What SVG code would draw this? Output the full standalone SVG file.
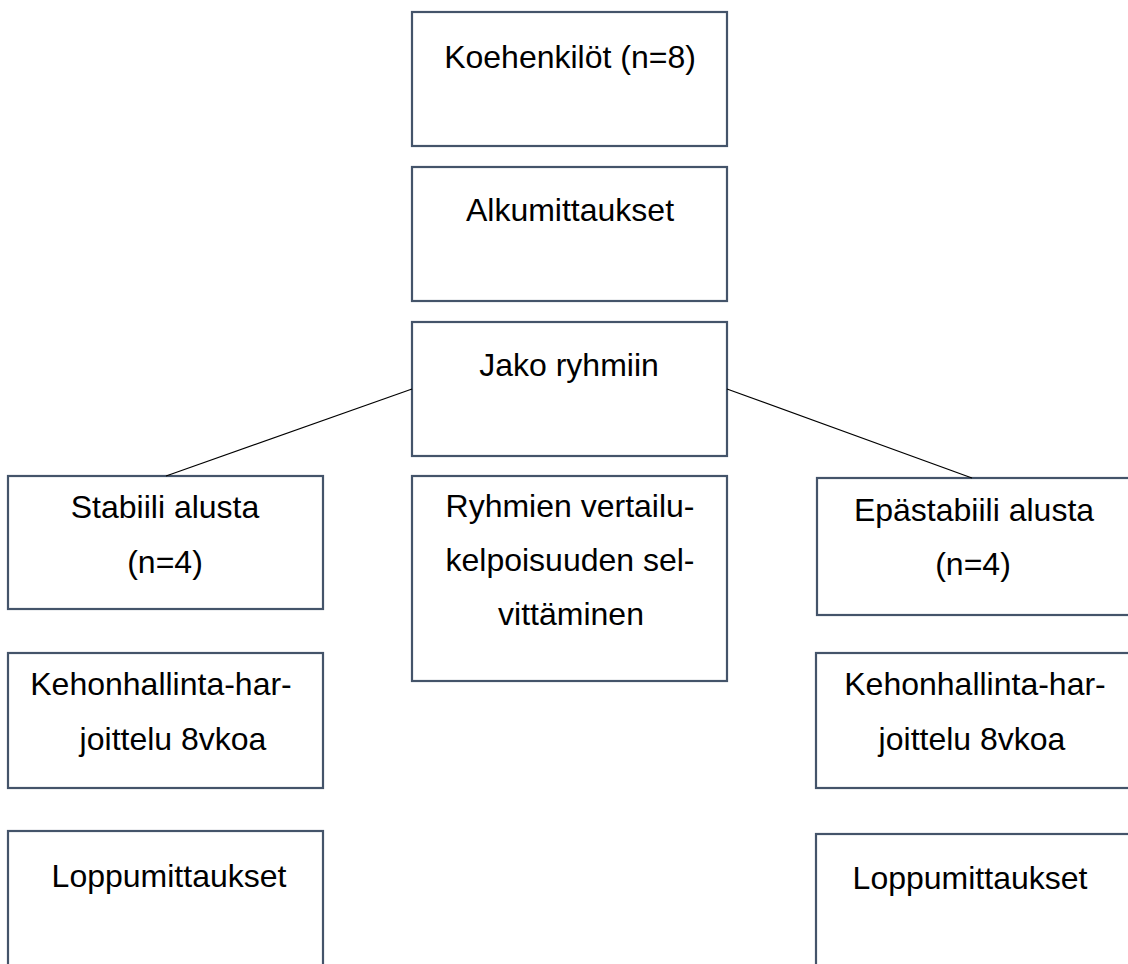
<svg xmlns="http://www.w3.org/2000/svg" width="1128" height="964" viewBox="0 0 1128 964">
<style>
.box{fill:#ffffff;stroke:#44546A;stroke-width:2.2}
.t{font-family:"Liberation Sans",Arial,sans-serif;font-size:32px;fill:#000000;text-anchor:middle}
.c{stroke:#000000;stroke-width:1.2;fill:none}
</style>
<rect width="1128" height="964" fill="#ffffff"/>
<g id="n1"><rect class="box" x="412" y="12" width="315" height="134"/><text class="t" x="570" y="68">Koehenkilöt (n=8)</text></g>
<g id="n2"><rect class="box" x="412" y="167" width="315" height="134"/><text class="t" x="570" y="221">Alkumittaukset</text></g>
<g id="n3"><rect class="box" x="412" y="322" width="315" height="134"/><text class="t" x="569" y="376">Jako ryhmiin</text></g>
<g id="n4"><rect class="box" x="412" y="476" width="315" height="205"/><text class="t" x="570" y="517">Ryhmien vertailu-</text><text class="t" x="570" y="571">kelpoisuuden sel-</text><text class="t" x="571" y="625">vittäminen</text></g>
<g id="n5"><rect class="box" x="8" y="476" width="315" height="133"/><text class="t" x="165" y="518">Stabiili alusta</text><text class="t" x="165" y="573">(n=4)</text></g>
<g id="n6"><rect class="box" x="8" y="653" width="315" height="135"/><text class="t" x="161" y="695">Kehonhallinta-har-</text><text class="t" x="173" y="750">joittelu 8vkoa</text></g>
<g id="n7"><rect class="box" x="8" y="831" width="315" height="160"/><text class="t" x="169" y="887">Loppumittaukset</text></g>
<g id="n8"><rect class="box" x="817" y="478" width="315" height="137"/><text class="t" x="974" y="521">Epästabiili alusta</text><text class="t" x="973" y="575">(n=4)</text></g>
<g id="n9"><rect class="box" x="816" y="653" width="316" height="135"/><text class="t" x="975" y="695">Kehonhallinta-har-</text><text class="t" x="972" y="750">joittelu 8vkoa</text></g>
<g id="n10"><rect class="box" x="816" y="834" width="316" height="160"/><text class="t" x="970" y="889">Loppumittaukset</text></g>
<g id="connectors">
<line class="c" x1="412" y1="389" x2="166" y2="476"/>
<line class="c" x1="727" y1="389" x2="972" y2="478"/>
</g>
</svg>
